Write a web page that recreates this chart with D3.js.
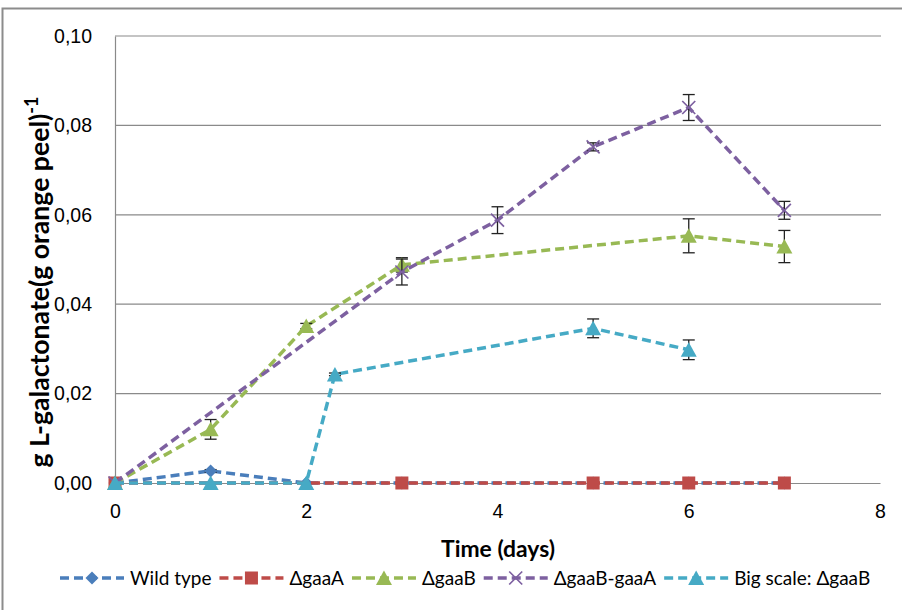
<!DOCTYPE html>
<html>
<head>
<meta charset="utf-8">
<script src="https://cdn.jsdelivr.net/npm/d3@7"></script>
<style>
  html, body { margin: 0; padding: 0; background: #fff; }
  svg { display: block; font-family: Lato, "Noto Sans", sans-serif; }
</style>
</head>
<body>
<svg id="chart" width="902" height="610"></svg>
<script>
// ---- data ----
const seriesNames = ["Wild type", "\u0394gaaA", "\u0394gaaB", "\u0394gaaB-gaaA", "Big scale: \u0394gaaB"];
const seriesColors = ["#4a7ebb", "#be4b48", "#98b954", "#7d60a0", "#46aac5"];
const seriesMarkers = ["diamond", "square", "triangle", "x", "triangle"];

const wildX = [0, 1, 2, 3, 5, 6, 7];
const wildY = [0, 0.0027, 0, 0, 0, 0, 0];
const wildErr = [0, 0.0003, 0, 0, 0, 0, 0];

const gaaAX = [0, 3, 5, 6, 7];
const gaaAY = [0, 0, 0, 0, 0];
const gaaAErr = [0, 0, 0, 0, 0];

const gaaBX = [0, 1, 2, 3, 6, 7];
const gaaBY = [0, 0.0120, 0.0351, 0.0488, 0.0553, 0.0529];
const gaaBErr = [0, 0.0022, 0.0006, 0.0016, 0.0038, 0.0036];

const gaaBAX = [0, 3, 4, 5, 6, 7];
const gaaBAY = [0, 0.0472, 0.0588, 0.0752, 0.0840, 0.0610];
const gaaBAErr = [0, 0.0029, 0.0030, 0.0009, 0.0029, 0.0020];

const bigX = [0, 1, 2, 2.3, 5, 6];
const bigY = [0, 0, 0, 0.0243, 0.0346, 0.0298];
const bigErr = [0, 0, 0, 0.0003, 0.0021, 0.0022];

const xTicks = [0, 2, 4, 6, 8];
const yTicks = [0, 0.02, 0.04, 0.06, 0.08, 0.10];
const xTitle = "Time (days)";
const yTitleMain = "g L-galactonate(g orange peel)";
const yTitleSup = "-1";

// ---- build ----
const seriesData = [
  [wildX, wildY, wildErr],
  [gaaAX, gaaAY, gaaAErr],
  [gaaBX, gaaBY, gaaBErr],
  [gaaBAX, gaaBAY, gaaBAErr],
  [bigX, bigY, bigErr]
].map(([xs, ys, es], i) => ({
  name: seriesNames[i], color: seriesColors[i], marker: seriesMarkers[i],
  points: xs.map((x, j) => ({ x, y: ys[j], e: es[j] }))
}));

const svg = d3.select("#chart");
const x = d3.scaleLinear().domain([0, 8]).range([115, 880]);
const y = d3.scaleLinear().domain([0, 0.1]).range([483, 36]);
const fmt = v => d3.format(".2f")(v).replace(".", ",");

// outer border
svg.append("rect").attr("x", 2.5).attr("y", 8.5).attr("width", 920).attr("height", 620)
  .attr("fill", "none").attr("stroke", "#8c8c8c").attr("stroke-width", 2);

// gridlines
svg.append("g").selectAll("line").data(yTicks.filter(d => d > 0)).join("line")
  .attr("x1", x(0)).attr("x2", x(8) + 1).attr("y1", d => y(d)).attr("y2", d => y(d))
  .attr("stroke", "#8a8a8a").attr("stroke-width", 1.2);

// axes
const yAxis = svg.append("g").attr("transform", `translate(${x(0)},0)`)
  .call(d3.axisLeft(y).tickValues(yTicks).tickFormat(fmt).tickSize(0).tickPadding(23));
yAxis.select(".domain").attr("stroke", "#8a8a8a").attr("stroke-width", 1.2);
yAxis.selectAll("text").attr("font-size", 19.5).attr("fill", "#000");

const xAxis = svg.append("g").attr("transform", `translate(0,${y(0)})`)
  .call(d3.axisBottom(x).tickValues(xTicks).tickFormat(d3.format("d")).tickSize(0).tickPadding(21));
xAxis.select(".domain").attr("stroke", "#8a8a8a").attr("stroke-width", 1.2);
xAxis.selectAll("text").attr("font-size", 19.5).attr("fill", "#000");

// axis titles (font size fitted to the reference width)
function fitText(sel, target, base) {
  const w = sel.node().getComputedTextLength();
  const fs = base * target / w;
  sel.attr("font-size", fs);
  return fs;
}
const xt = svg.append("text").attr("x", 498).attr("y", 557).attr("text-anchor", "middle")
  .attr("font-size", 20).attr("font-weight", "bold").text(xTitle);
fitText(xt, 114, 20);

const yt = svg.append("text").attr("transform", "translate(49,282) rotate(-90)")
  .attr("text-anchor", "middle").attr("font-weight", "bold").attr("font-size", 20);
yt.append("tspan").text(yTitleMain);
const ysup = yt.append("tspan").attr("font-size", 14).text(yTitleSup);
const yfs = fitText(yt, 372, 20);
ysup.attr("font-size", yfs * 0.68).attr("dy", -yfs * 0.42);

// marker drawing
function drawMarker(g, type, color, cx, cy) {
  if (type === "diamond") {
    const s = 6.5;
    g.append("path").attr("d", `M${cx},${cy - s}L${cx + s},${cy}L${cx},${cy + s}L${cx - s},${cy}Z`).attr("fill", color);
  } else if (type === "square") {
    const s = 6.5;
    g.append("rect").attr("x", cx - s).attr("y", cy - s).attr("width", 2 * s).attr("height", 2 * s).attr("fill", color);
  } else if (type === "triangle") {
    const w = 8, h = 7.5;
    g.append("path").attr("d", `M${cx},${cy - h}L${cx + w},${cy + h - 0.5}L${cx - w},${cy + h - 0.5}Z`).attr("fill", color);
  } else if (type === "x") {
    const s = 6.5;
    g.append("path").attr("d", `M${cx - s},${cy - s}L${cx + s},${cy + s}M${cx - s},${cy + s}L${cx + s},${cy - s}`)
      .attr("stroke", color).attr("stroke-width", 1.7).attr("fill", "none");
  }
}

const line = d3.line().x(d => x(d.x)).y(d => y(d.y));
const plot = svg.append("g");
seriesData.forEach(s => {
  const g = plot.append("g");
  g.append("path").datum(s.points).attr("d", line).attr("fill", "none")
    .attr("stroke", s.color).attr("stroke-width", 3.5).attr("stroke-dasharray", "9,5");
  // error bars
  s.points.filter(p => p.e > 0).forEach(p => {
    const eg = g.append("g").attr("stroke", "#222").attr("stroke-width", 1.3);
    eg.append("line").attr("x1", x(p.x)).attr("x2", x(p.x)).attr("y1", y(p.y - p.e)).attr("y2", y(p.y + p.e));
    [p.y - p.e, p.y + p.e].forEach(v => eg.append("line")
      .attr("x1", x(p.x) - 6).attr("x2", x(p.x) + 6).attr("y1", y(v)).attr("y2", y(v)));
  });
  s.points.forEach(p => drawMarker(g, s.marker, s.color, x(p.x), y(p.y)));
});

// legend
const legend = svg.append("g");
let lx = 60;
const ly = 578;
seriesData.forEach(s => {
  const g = legend.append("g");
  g.append("line").attr("x1", lx).attr("x2", lx + 64).attr("y1", ly).attr("y2", ly)
    .attr("stroke", s.color).attr("stroke-width", 3.5).attr("stroke-dasharray", "9,5");
  drawMarker(g, s.marker, s.color, lx + 32, ly);
  const t = g.append("text").attr("x", lx + 70).attr("y", ly + 6.5).attr("font-size", 19).text(s.name);
  lx += 70 + t.node().getComputedTextLength() + 8;
});
</script>
</body>
</html>
